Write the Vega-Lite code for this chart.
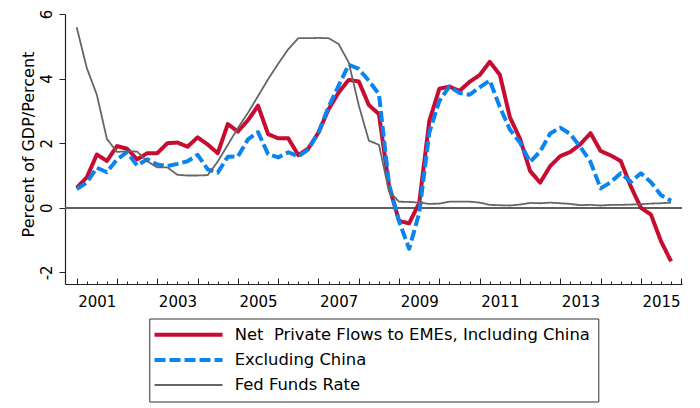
{
  "$schema": "https://vega.github.io/schema/vega-lite/v6.json",
  "width": 617,
  "height": 270,
  "autosize": {"type": "none"},
  "padding": {"left": 65, "top": 14, "right": 18, "bottom": 124},
  "background": "white",
  "config": {"view": {"stroke": null}, "font": "DejaVu Sans"},
  "data": {"values": [
    {"d":2001,"inc":0.62,"exc":0.58,"ffr":5.59},{"d":2001.25,"inc":0.94,"exc":0.78,"ffr":4.33},{"d":2001.5,"inc":1.65,"exc":1.24,"ffr":3.50},{"d":2001.75,"inc":1.45,"exc":1.10,"ffr":2.13},
    {"d":2002,"inc":1.91,"exc":1.50,"ffr":1.73},{"d":2002.25,"inc":1.83,"exc":1.72,"ffr":1.75},{"d":2002.5,"inc":1.50,"exc":1.31,"ffr":1.74},{"d":2002.75,"inc":1.69,"exc":1.50,"ffr":1.44},
    {"d":2003,"inc":1.69,"exc":1.34,"ffr":1.25},{"d":2003.25,"inc":2.00,"exc":1.29,"ffr":1.25},{"d":2003.5,"inc":2.02,"exc":1.36,"ffr":1.02},{"d":2003.75,"inc":1.89,"exc":1.44,"ffr":1.00},
    {"d":2004,"inc":2.18,"exc":1.64,"ffr":1.00},{"d":2004.25,"inc":1.96,"exc":1.19,"ffr":1.01},{"d":2004.5,"inc":1.69,"exc":1.09,"ffr":1.43},{"d":2004.75,"inc":2.59,"exc":1.58,"ffr":1.95},
    {"d":2005,"inc":2.36,"exc":1.59,"ffr":2.47},{"d":2005.25,"inc":2.71,"exc":2.12,"ffr":2.94},{"d":2005.5,"inc":3.16,"exc":2.34,"ffr":3.46},{"d":2005.75,"inc":2.28,"exc":1.66,"ffr":3.98},
    {"d":2006,"inc":2.15,"exc":1.56,"ffr":4.46},{"d":2006.25,"inc":2.15,"exc":1.72,"ffr":4.91},{"d":2006.5,"inc":1.63,"exc":1.59,"ffr":5.25},{"d":2006.75,"inc":1.84,"exc":1.81,"ffr":5.25},
    {"d":2007,"inc":2.33,"exc":2.33,"ffr":5.26},{"d":2007.25,"inc":3.05,"exc":3.12,"ffr":5.25},{"d":2007.5,"inc":3.57,"exc":3.78,"ffr":5.07},{"d":2007.75,"inc":3.96,"exc":4.43,"ffr":4.50},
    {"d":2008,"inc":3.91,"exc":4.30,"ffr":3.17},{"d":2008.25,"inc":3.18,"exc":3.93,"ffr":2.08},{"d":2008.5,"inc":2.90,"exc":3.52,"ffr":1.95},{"d":2008.75,"inc":0.67,"exc":0.72,"ffr":0.51},
    {"d":2009,"inc":-0.41,"exc":-0.42,"ffr":0.19},{"d":2009.25,"inc":-0.48,"exc":-1.27,"ffr":0.18},{"d":2009.5,"inc":0.15,"exc":-0.16,"ffr":0.16},{"d":2009.75,"inc":2.69,"exc":2.33,"ffr":0.12},
    {"d":2010,"inc":3.69,"exc":3.31,"ffr":0.13},{"d":2010.25,"inc":3.75,"exc":3.76,"ffr":0.19},{"d":2010.5,"inc":3.62,"exc":3.55,"ffr":0.19},{"d":2010.75,"inc":3.90,"exc":3.50,"ffr":0.19},
    {"d":2011,"inc":4.11,"exc":3.73,"ffr":0.16},{"d":2011.25,"inc":4.52,"exc":3.94,"ffr":0.09},{"d":2011.5,"inc":4.12,"exc":3.12,"ffr":0.08},{"d":2011.75,"inc":2.80,"exc":2.42,"ffr":0.07},
    {"d":2012,"inc":2.14,"exc":2.02,"ffr":0.10},{"d":2012.25,"inc":1.14,"exc":1.42,"ffr":0.15},{"d":2012.5,"inc":0.78,"exc":1.74,"ffr":0.14},{"d":2012.75,"inc":1.29,"exc":2.30,"ffr":0.16},
    {"d":2013,"inc":1.60,"exc":2.48,"ffr":0.14},{"d":2013.25,"inc":1.73,"exc":2.28,"ffr":0.12},{"d":2013.5,"inc":1.97,"exc":1.88,"ffr":0.08},{"d":2013.75,"inc":2.31,"exc":1.42,"ffr":0.09},
    {"d":2014,"inc":1.76,"exc":0.60,"ffr":0.07},{"d":2014.25,"inc":1.62,"exc":0.79,"ffr":0.09},{"d":2014.5,"inc":1.45,"exc":1.07,"ffr":0.09},{"d":2014.75,"inc":0.66,"exc":0.80,"ffr":0.10},
    {"d":2015,"inc":0.00,"exc":1.07,"ffr":0.11},{"d":2015.25,"inc":-0.21,"exc":0.79,"ffr":0.13},{"d":2015.5,"inc":-1.04,"exc":0.39,"ffr":0.14},{"d":2015.75,"inc":-1.66,"exc":0.22,"ffr":0.16}
  ]},
  "transform": [{"fold": ["inc", "exc", "ffr"], "as": ["key", "v"]}],
  "layer": [
    {
      "mark": {"type": "rule", "color": "#606060", "strokeWidth": 1.3},
      "encoding": {"y": {"datum": 0, "type": "quantitative"}}
    },
    {
      "mark": {"type": "line", "strokeJoin": "round", "strokeCap": "butt"},
      "encoding": {
        "x": {
          "field": "d", "type": "quantitative",
          "scale": {"domain": [2000.71, 2016.02], "nice": false, "zero": false},
          "axis": {
            "title": null,
            "values": [2001,2001.25,2001.5,2001.75,2002,2002.25,2002.5,2002.75,2003,2003.25,2003.5,2003.75,2004,2004.25,2004.5,2004.75,2005,2005.25,2005.5,2005.75,2006,2006.25,2006.5,2006.75,2007,2007.25,2007.5,2007.75,2008,2008.25,2008.5,2008.75,2009,2009.25,2009.5,2009.75,2010,2010.25,2010.5,2010.75,2011,2011.25,2011.5,2011.75,2012,2012.25,2012.5,2012.75,2013,2013.25,2013.5,2013.75,2014,2014.25,2014.5,2014.75,2015,2015.25,2015.5,2015.75,2016],
            "labelExpr": "((datum.value - 2001.5) % 2 == 0) ? format(floor(datum.value), 'd') : ''",
            "labelOverlap": false, "labelFlush": false, "labelBound": false,
            "tickSize": {"condition": {"test": "datum.value % 1 == 0", "value": -6}, "value": -3},
            "labelPadding": 13,
            "labelFont": "DejaVu Sans", "labelFontSize": 15, "labelColor": "black",
            "domainColor": "#222", "tickColor": "#222", "tickWidth": 1, "domainWidth": 1.2,
            "grid": false
          }
        },
        "y": {
          "field": "v", "type": "quantitative",
          "scale": {"domain": [-2.36, 6.0], "nice": false, "zero": false},
          "axis": {
            "values": [-2, 0, 2, 4, 6],
            "labelExpr": "datum.value < 0 ? '-' + abs(datum.value) : '' + datum.value",
            "title": "Percent of GDP/Percent",
            "titleFont": "DejaVu Sans", "titleFontSize": 16, "titleFontWeight": "normal", "titleColor": "black",
            "titleAngle": -90, "titleAlign": "center", "titleBaseline": "alphabetic",
            "titleX": -31.5, "titleY": 130,
            "labelAngle": -90, "labelAlign": "center", "labelBaseline": "alphabetic",
            "labelPadding": 8, "tickSize": 6,
            "labelFont": "DejaVu Sans", "labelFontSize": 15, "labelColor": "black",
            "domainColor": "#222", "tickColor": "#222", "domainWidth": 1.2,
            "grid": false
          }
        },
        "color": {
          "field": "key", "type": "nominal",
          "scale": {"domain": ["inc", "exc", "ffr"], "range": ["#C60C30", "#0A84F0", "#666666"]},
          "legend": {
            "title": null, "orient": "none", "legendX": 84.3, "legendY": 304.5,
            "direction": "vertical",
            "labelExpr": "datum.value == 'inc' ? 'Net\u00a0 Private Flows to EMEs, Including China' : (datum.value == 'exc' ? 'Excluding China' : 'Fed Funds Rate')",
            "strokeColor": "#333", "fillColor": "white", "padding": 8,
            "symbolType": "stroke", "symbolSize": 4624, "symbolStrokeWidth": 4,
            "symbolOffset": 23,
            "labelFont": "DejaVu Sans", "labelFontSize": 16.4, "labelColor": "black",
            "labelOffset": 38, "labelLimit": 0, "rowPadding": 8.2,
            "encode": {"symbols": {"update": {"strokeWidth": {"signal": "datum.value == 'ffr' ? 2 : 4"}}}}
          }
        },
        "strokeDash": {
          "field": "key", "type": "nominal",
          "scale": {"domain": ["inc", "exc", "ffr"], "range": [[1, 0], [11, 4], [1, 0]]}
        },
        "strokeWidth": {"condition": {"test": "datum.key == 'ffr'", "value": 1.8}, "value": 4}
      }
    }
  ]
}
